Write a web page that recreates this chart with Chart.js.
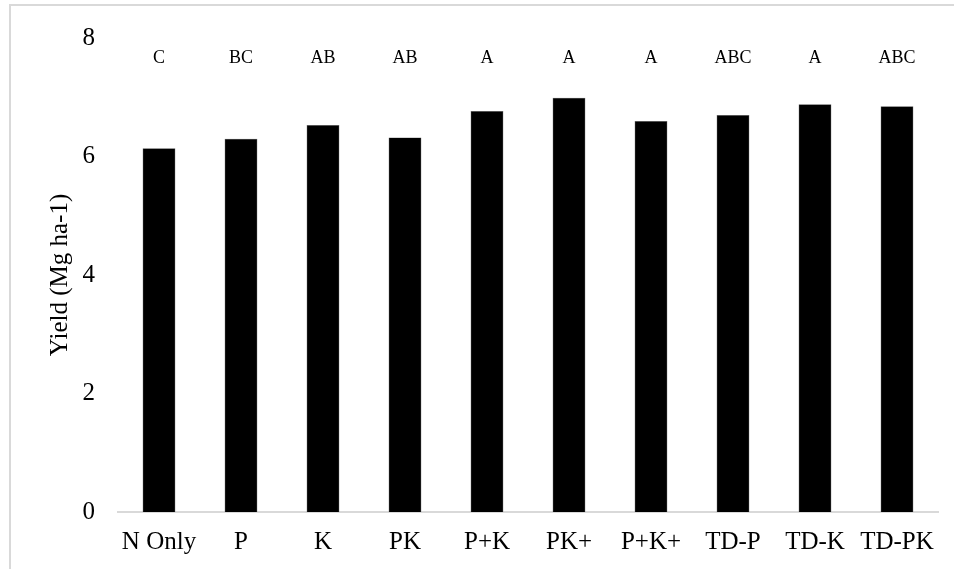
<!DOCTYPE html>
<html lang="en">
<head>
    <meta charset="UTF-8">
    <title>Yield by treatment</title>
    <script src="https://cdn.jsdelivr.net/npm/chart.js@4.4.0/dist/chart.umd.min.js"></script>
    <style>
        body, html {
            margin: 0;
            background-color: #FFFFFF;
            overflow: hidden;
        }
        #wrap {
            position: relative;
            width: 954px;
            height: 569px;
        }
        #frame {
            position: absolute;
            left: 9px;
            top: 4px;
            width: 1000px;
            height: 700px;
            border: 2px solid #d9d9d9;
            pointer-events: none;
        }
        #chart_div {
            position: absolute;
            left: 0;
            top: 0;
        }
    </style>
</head>
<body>
<div id="wrap">
    <div id="frame"></div>
    <canvas id="chart_div" width="954" height="569"></canvas>
</div>
<script>
    // Treatments and mean yield (Mg ha-1)
    const treatments = ['N Only', 'P', 'K', 'PK', 'P+K', 'PK+', 'P+K+', 'TD-P', 'TD-K', 'TD-PK'];
    const yields = [6.14, 6.30, 6.53, 6.32, 6.77, 6.99, 6.60, 6.70, 6.88, 6.85];
    // Significance letters above each bar
    const letters = ['C', 'BC', 'AB', 'AB', 'A', 'A', 'A', 'ABC', 'A', 'ABC'];
    const letterLevel = 7.65;
    const yTicks = [0, 2, 4, 6, 8];

    const serif = '"Liberation Serif", "Times New Roman", serif';

    // draws the letters at a fixed height above the bars
    const letterPlugin = {
        id: 'letters',
        afterDatasetsDraw(chart) {
            const ctx = chart.ctx;
            const x = chart.scales.x;
            const y = chart.scales.y;
            ctx.save();
            ctx.font = '18px ' + serif;
            ctx.fillStyle = '#000000';
            ctx.textAlign = 'center';
            ctx.textBaseline = 'middle';
            letters.forEach((l, i) => {
                ctx.fillText(l, x.getPixelForValue(i), y.getPixelForValue(letterLevel));
            });
            ctx.restore();
        }
    };

    const ctx = document.getElementById('chart_div').getContext('2d');
    const chart = new Chart(ctx, {
        type: 'bar',
        data: {
            labels: treatments,
            datasets: [{
                label: 'Yield',
                data: yields,
                backgroundColor: '#000000',
                borderColor: '#555555',
                borderWidth: 0.5,
                barPercentage: 0.4,
                categoryPercentage: 1.0
            }]
        },
        options: {
            responsive: false,
            animation: false,
            layout: {
                padding: { left: 0, right: 16, top: 37, bottom: 0 }
            },
            plugins: {
                legend: { display: false },
                tooltip: { enabled: false }
            },
            scales: {
                x: {
                    grid: { display: false, drawTicks: false },
                    border: { display: true, color: '#d9d9d9', width: 2 },
                    ticks: {
                        color: '#000000',
                        font: { family: serif, size: 25 },
                        padding: 15,
                        maxRotation: 0,
                        autoSkip: false
                    },
                    afterFit(scale) { scale.height = 57; }
                },
                y: {
                    min: 0,
                    max: 8,
                    afterBuildTicks(scale) {
                        scale.ticks = yTicks.map(v => ({ value: v }));
                    },
                    grid: { display: false, drawTicks: false },
                    border: { display: false },
                    ticks: {
                        color: '#000000',
                        font: { family: serif, size: 25 },
                        padding: 23
                    },
                    title: {
                        display: true,
                        text: 'Yield (Mg ha-1)',
                        color: '#000000',
                        font: { family: serif, size: 25 },
                        padding: { top: 45, bottom: 0 }
                    },
                    afterFit(scale) { scale.width = 118; }
                }
            }
        },
        plugins: [letterPlugin]
    });
</script>
</body>
</html>
